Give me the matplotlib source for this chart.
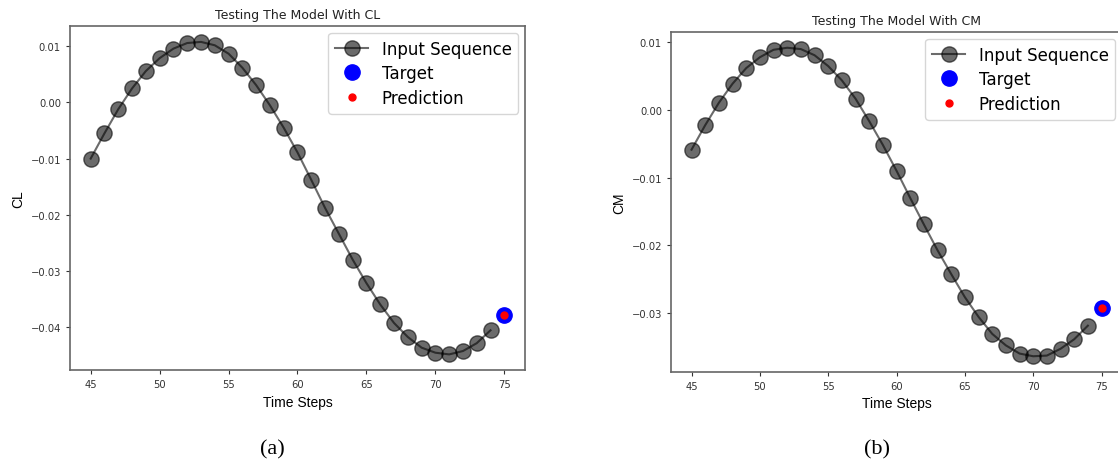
import numpy as np
import matplotlib
matplotlib.use('Agg')
import matplotlib.pyplot as plt

# time steps of the input window and the predicted step
steps = list(range(45, 75))
target_step = 75

# CL input sequence
cl_input = [-0.0100, -0.0055, -0.0012, 0.0025, 0.0056, 0.0079, 0.0096, 0.0106,
            0.0108, 0.0102, 0.0087, 0.0062, 0.0031, -0.0005, -0.0045, -0.0089,
            -0.0138, -0.0188, -0.0234, -0.0280, -0.0322, -0.0360, -0.0393,
            -0.0418, -0.0437, -0.0446, -0.0449, -0.0443, -0.0429, -0.0406]
cl_target = -0.0378
cl_pred = -0.0378

# CM input sequence
cm_input = [-0.0059, -0.0023, 0.0010, 0.0038, 0.0061, 0.0077, 0.0088, 0.0091,
            0.0089, 0.0080, 0.0064, 0.0043, 0.0016, -0.0017, -0.0052, -0.0090,
            -0.0130, -0.0169, -0.0207, -0.0242, -0.0276, -0.0305, -0.0330,
            -0.0347, -0.0359, -0.0363, -0.0362, -0.0352, -0.0338, -0.0318]
cm_target = -0.0292
cm_pred = -0.0292

panels = [
    ('CL', cl_input, cl_target, cl_pred, [0.0626, 0.2004, 0.4070, 0.7408], '(a)', 0.244),
    ('CM', cm_input, cm_target, cm_pred, [0.6002, 0.1968, 0.4034, 0.7314], '(b)', 0.784),
]

fig = plt.figure(figsize=(11.18, 4.64), dpi=100)

for name, seq, tgt, pred, rect, tag, tag_x in panels:
    ax = fig.add_axes(rect)
    ax.plot(steps, seq, 'ko-', markersize=11, alpha=0.58, linewidth=1.5,
            label='Input Sequence')
    ax.plot([target_step], [tgt], 'bo', markersize=11, label='Target')
    ax.plot([target_step], [pred], 'r.', markersize=10, label='Prediction')
    ax.set_title('Testing The Model With ' + name, fontsize=9, color='#222222')
    ax.set_xlabel('Time Steps', fontsize=10, family='Liberation Sans')
    ax.set_ylabel(name, fontsize=10, family='Liberation Sans')
    ax.tick_params(labelsize=7.2, colors='#333333', length=3)
    for sp in ax.spines.values():
        sp.set_color('#666666')
        sp.set_linewidth(1.2)
    ax.legend(loc='upper right', fontsize=12, borderaxespad=0.4, labelspacing=0.4)
    fig.text(tag_x, 0.02, tag, ha='center', fontsize=16, family='Liberation Serif')

plt.savefig('out.png', dpi=100)
